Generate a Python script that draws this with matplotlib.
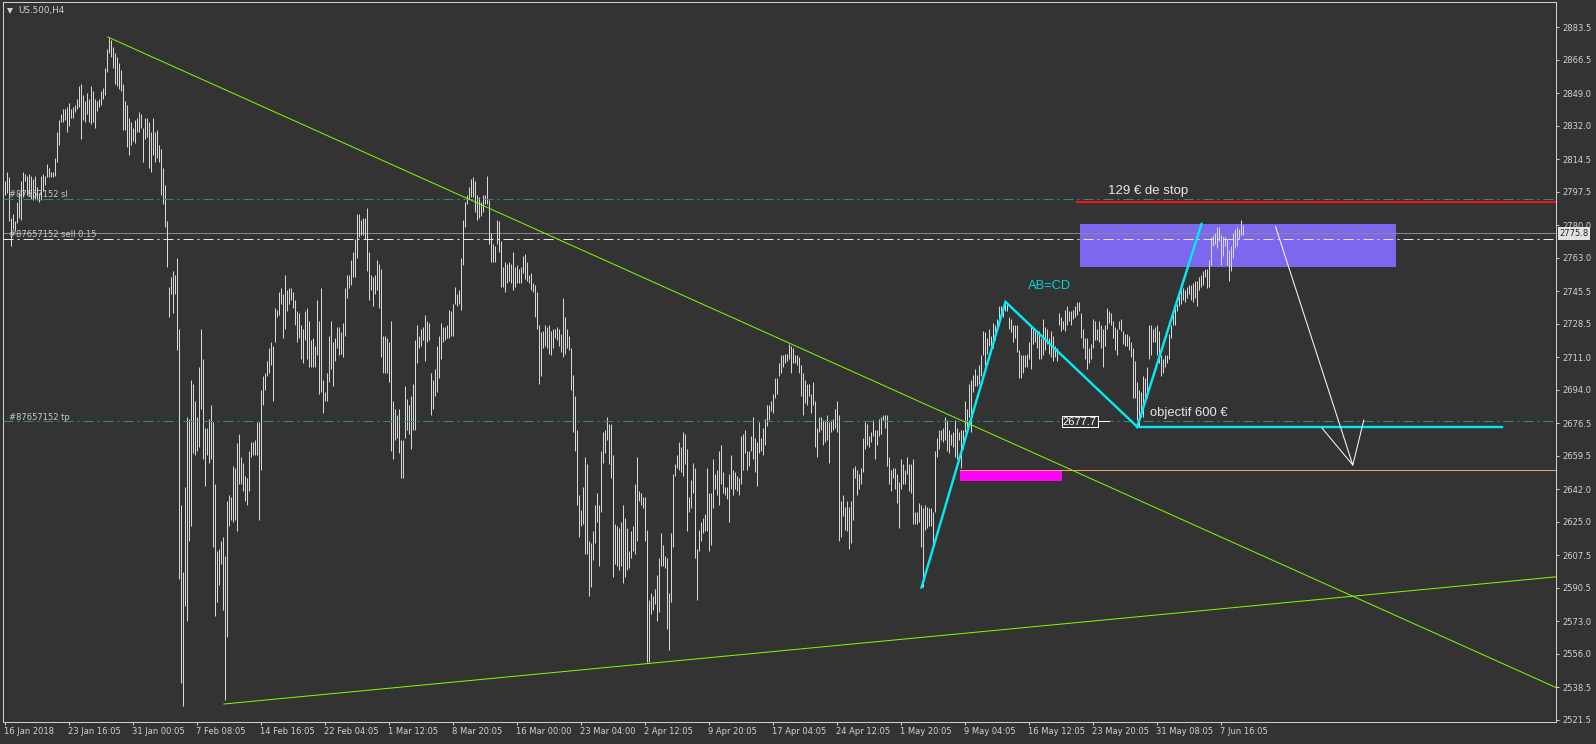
import matplotlib
matplotlib.use('Agg')
import matplotlib.pyplot as plt
from matplotlib.patches import Rectangle
from matplotlib.lines import Line2D

# ---------------- data (US.500 H4, one value per bar) ----------------
highs = [
2803, 2808, 2805, 2784, 2786, 2782, 2792, 2797, 2803, 2808,
2807, 2806, 2807, 2806, 2804, 2806, 2800, 2797, 2806, 2807,
2806, 2812, 2810, 2808, 2808, 2815, 2829, 2835, 2838, 2841,
2841, 2842, 2844, 2841, 2842, 2843, 2846, 2853, 2854, 2848,
2845, 2849, 2846, 2853, 2850, 2846, 2845, 2846, 2850, 2852,
2862, 2872, 2878, 2877, 2873, 2870, 2868, 2865, 2861, 2854,
2845, 2843, 2836, 2834, 2831, 2835, 2836, 2839, 2838, 2831,
2836, 2836, 2834, 2829, 2836, 2829, 2830, 2822, 2820, 2810,
2801, 2782, 2748, 2753, 2756, 2754, 2763, 2726, 2634, 2599,
2643, 2680, 2679, 2699, 2697, 2688, 2680, 2706, 2726, 2710,
2674, 2674, 2679, 2686, 2677, 2645, 2610, 2611, 2615, 2617,
2607, 2636, 2639, 2638, 2654, 2653, 2666, 2671, 2659, 2656,
2649, 2648, 2662, 2667, 2667, 2668, 2677, 2677, 2694, 2701,
2703, 2709, 2716, 2719, 2717, 2737, 2736, 2745, 2747, 2744,
2754, 2746, 2747, 2747, 2745, 2741, 2735, 2734, 2728, 2726,
2735, 2737, 2730, 2720, 2721, 2717, 2741, 2730, 2747, 2699,
2693, 2703, 2722, 2730, 2719, 2721, 2727, 2727, 2724, 2729,
2747, 2754, 2754, 2762, 2766, 2773, 2786, 2786, 2783, 2784,
2784, 2789, 2766, 2754, 2753, 2754, 2762, 2760, 2757, 2722,
2722, 2721, 2719, 2730, 2688, 2684, 2681, 2684, 2668, 2668,
2696, 2689, 2686, 2691, 2697, 2720, 2728, 2722, 2726, 2727,
2733, 2730, 2729, 2703, 2699, 2705, 2717, 2722, 2729, 2727,
2727, 2728, 2736, 2735, 2739, 2748, 2744, 2746, 2763, 2783,
2792, 2796, 2800, 2804, 2805, 2803, 2796, 2795, 2792, 2796,
2796, 2806, 2793, 2776, 2770, 2769, 2783, 2782, 2772, 2758,
2761, 2760, 2761, 2760, 2766, 2758, 2759, 2757, 2758, 2764,
2765, 2761, 2754, 2755, 2750, 2749, 2745, 2728, 2724, 2725,
2728, 2727, 2728, 2725, 2726, 2726, 2727, 2726, 2723, 2742,
2732, 2726, 2722, 2716, 2702, 2691, 2673, 2639, 2631, 2643,
2659, 2655, 2615, 2614, 2620, 2634, 2640, 2634, 2662, 2672,
2673, 2680, 2676, 2676, 2660, 2624, 2623, 2622, 2625, 2634,
2627, 2622, 2610, 2620, 2623, 2645, 2659, 2641, 2640, 2638,
2638, 2621, 2584, 2588, 2586, 2590, 2597, 2606, 2619, 2613,
2607, 2606, 2588, 2619, 2650, 2655, 2660, 2667, 2664, 2672,
2671, 2663, 2638, 2647, 2656, 2653, 2611, 2621, 2625, 2627,
2629, 2653, 2640, 2640, 2658, 2650, 2652, 2662, 2665, 2651,
2643, 2643, 2650, 2660, 2652, 2651, 2649, 2648, 2670, 2671,
2673, 2662, 2662, 2670, 2680, 2669, 2667, 2677, 2669, 2674,
2679, 2686, 2686, 2688, 2692, 2700, 2700, 2708, 2712, 2712,
2713, 2713, 2718, 2717, 2716, 2712, 2712, 2711, 2707, 2703,
2699, 2697, 2697, 2692, 2698, 2688, 2674, 2680, 2680, 2678,
2678, 2681, 2677, 2678, 2679, 2684, 2688, 2681, 2636, 2639,
2633, 2636, 2633, 2636, 2653, 2654, 2652, 2650, 2653, 2669,
2677, 2676, 2670, 2672, 2678, 2673, 2673, 2679, 2680, 2681,
2681, 2681, 2659, 2652, 2653, 2653, 2650, 2646, 2658, 2655,
2652, 2659, 2655, 2655, 2658, 2630, 2630, 2635, 2634, 2632,
2634, 2633, 2632, 2632, 2630, 2662, 2669, 2673, 2673, 2674,
2680, 2678, 2673, 2671, 2672, 2678, 2674, 2672, 2673, 2673,
2688, 2684, 2697, 2699, 2702, 2705, 2702, 2707, 2712, 2725,
2724, 2721, 2726, 2722, 2729, 2728, 2731, 2738, 2738, 2738,
2739, 2740, 2732, 2731, 2728, 2728, 2728, 2715, 2712, 2712,
2712, 2713, 2719, 2727, 2726, 2725, 2724, 2725, 2721, 2731,
2727, 2726, 2721, 2725, 2722, 2717, 2716, 2734, 2732, 2730,
2736, 2738, 2735, 2735, 2736, 2738, 2740, 2740, 2734, 2726,
2721, 2721, 2716, 2718, 2731, 2730, 2726, 2730, 2728, 2726,
2728, 2737, 2735, 2734, 2730, 2727, 2726, 2730, 2731, 2725,
2723, 2723, 2722, 2719, 2716, 2709, 2698, 2694, 2693, 2701,
2700, 2706, 2728, 2728, 2726, 2727, 2728, 2725, 2712, 2710,
2712, 2712, 2723, 2728, 2736, 2737, 2739, 2744, 2746, 2747,
2746, 2748, 2749, 2749, 2750, 2751, 2751, 2753, 2754, 2756,
2757, 2757, 2762, 2774, 2775, 2776, 2779, 2779, 2775, 2774,
2774, 2773, 2767, 2769, 2776, 2778, 2779, 2778, 2783, 2780,
]
lows = [
2796, 2797, 2782, 2769, 2778, 2777, 2781, 2784, 2783, 2795,
2803, 2796, 2796, 2794, 2793, 2794, 2793, 2792, 2793, 2798,
2801, 2805, 2805, 2805, 2805, 2806, 2813, 2822, 2834, 2834,
2835, 2829, 2832, 2836, 2836, 2839, 2841, 2842, 2825, 2835,
2834, 2838, 2834, 2833, 2834, 2831, 2840, 2842, 2843, 2846,
2848, 2860, 2870, 2868, 2862, 2854, 2853, 2851, 2850, 2830,
2830, 2821, 2817, 2822, 2824, 2823, 2829, 2829, 2831, 2813,
2825, 2826, 2810, 2808, 2817, 2813, 2815, 2813, 2796, 2791,
2779, 2758, 2732, 2744, 2734, 2744, 2715, 2595, 2541, 2529,
2581, 2573, 2615, 2623, 2661, 2660, 2662, 2664, 2684, 2658,
2644, 2660, 2656, 2658, 2612, 2576, 2583, 2592, 2603, 2579,
2532, 2565, 2623, 2626, 2625, 2626, 2620, 2645, 2645, 2641,
2636, 2634, 2641, 2659, 2660, 2660, 2660, 2626, 2652, 2686,
2694, 2701, 2703, 2707, 2688, 2719, 2732, 2733, 2739, 2721,
2726, 2735, 2739, 2741, 2737, 2728, 2719, 2721, 2710, 2708,
2720, 2710, 2706, 2706, 2706, 2706, 2712, 2692, 2693, 2682,
2688, 2688, 2698, 2705, 2696, 2709, 2716, 2712, 2713, 2711,
2722, 2742, 2747, 2749, 2753, 2753, 2763, 2774, 2775, 2775,
2773, 2756, 2741, 2746, 2738, 2744, 2746, 2737, 2711, 2703,
2703, 2703, 2698, 2662, 2658, 2668, 2669, 2661, 2648, 2648,
2669, 2673, 2671, 2663, 2673, 2673, 2708, 2716, 2717, 2720,
2709, 2719, 2720, 2681, 2684, 2691, 2693, 2700, 2710, 2719,
2720, 2721, 2721, 2722, 2722, 2739, 2738, 2739, 2736, 2759,
2779, 2791, 2794, 2795, 2795, 2787, 2783, 2784, 2785, 2787,
2791, 2791, 2770, 2761, 2761, 2761, 2770, 2766, 2748, 2748,
2745, 2750, 2751, 2750, 2746, 2748, 2750, 2750, 2750, 2755,
2752, 2751, 2750, 2746, 2745, 2732, 2726, 2697, 2701, 2716,
2717, 2716, 2713, 2712, 2716, 2721, 2720, 2717, 2714, 2711,
2713, 2716, 2715, 2694, 2672, 2662, 2634, 2617, 2623, 2624,
2608, 2608, 2586, 2591, 2605, 2614, 2625, 2602, 2630, 2656,
2661, 2668, 2655, 2648, 2596, 2603, 2602, 2600, 2602, 2593,
2596, 2600, 2601, 2606, 2610, 2608, 2615, 2636, 2634, 2632,
2615, 2552, 2552, 2577, 2579, 2582, 2573, 2578, 2602, 2602,
2601, 2569, 2558, 2583, 2612, 2649, 2653, 2652, 2651, 2649,
2655, 2620, 2630, 2632, 2640, 2606, 2584, 2610, 2615, 2619,
2620, 2620, 2610, 2613, 2632, 2642, 2639, 2634, 2645, 2640,
2639, 2637, 2625, 2642, 2639, 2642, 2641, 2639, 2645, 2652,
2661, 2652, 2654, 2662, 2658, 2651, 2644, 2661, 2662, 2660,
2665, 2675, 2678, 2683, 2682, 2690, 2692, 2701, 2703, 2706,
2708, 2709, 2710, 2703, 2708, 2708, 2707, 2703, 2691, 2681,
2687, 2686, 2691, 2682, 2686, 2664, 2659, 2672, 2673, 2665,
2667, 2668, 2656, 2672, 2673, 2674, 2672, 2615, 2617, 2628,
2621, 2620, 2611, 2614, 2626, 2648, 2639, 2642, 2645, 2651,
2663, 2665, 2664, 2667, 2670, 2658, 2665, 2670, 2671, 2678,
2674, 2654, 2645, 2641, 2648, 2642, 2635, 2622, 2642, 2645,
2645, 2650, 2641, 2640, 2624, 2624, 2624, 2625, 2612, 2591,
2621, 2622, 2623, 2623, 2612, 2630, 2659, 2663, 2668, 2667,
2668, 2662, 2661, 2665, 2664, 2659, 2658, 2668, 2653, 2663,
2672, 2673, 2680, 2672, 2693, 2696, 2696, 2697, 2701, 2712,
2707, 2713, 2717, 2717, 2716, 2720, 2725, 2728, 2734, 2732,
2735, 2735, 2726, 2724, 2719, 2721, 2714, 2700, 2700, 2703,
2706, 2706, 2710, 2705, 2718, 2719, 2716, 2710, 2710, 2712,
2715, 2718, 2713, 2711, 2709, 2711, 2709, 2728, 2725, 2726,
2725, 2728, 2730, 2728, 2731, 2732, 2733, 2735, 2721, 2716,
2710, 2705, 2708, 2710, 2716, 2720, 2720, 2719, 2716, 2706,
2717, 2726, 2729, 2728, 2721, 2715, 2712, 2726, 2725, 2718,
2717, 2717, 2715, 2711, 2690, 2690, 2678, 2675, 2680, 2680,
2688, 2690, 2710, 2712, 2719, 2719, 2712, 2708, 2701, 2703,
2706, 2708, 2710, 2721, 2728, 2728, 2735, 2738, 2739, 2741,
2740, 2742, 2744, 2741, 2740, 2742, 2738, 2746, 2748, 2749,
2753, 2747, 2748, 2759, 2769, 2770, 2768, 2772, 2759, 2764,
2769, 2759, 2751, 2756, 2763, 2768, 2769, 2773, 2775, 2775,
]

x_labels = ['16 Jan 2018', '23 Jan 16:05', '31 Jan 00:05', '7 Feb 08:05', '14 Feb 16:05',
            '22 Feb 04:05', '1 Mar 12:05', '8 Mar 20:05', '16 Mar 00:00', '23 Mar 04:00',
            '2 Apr 12:05', '9 Apr 20:05', '17 Apr 04:05', '24 Apr 12:05', '1 May 20:05',
            '9 May 04:05', '16 May 12:05', '23 May 20:05', '31 May 08:05', '7 Jun 16:05']
bars_per_label = 32
y_ticks = [2883.5, 2866.5, 2849.0, 2832.0, 2814.5, 2797.5, 2780.0, 2763.0, 2745.5,
           2728.5, 2711.0, 2694.0, 2676.5, 2659.5, 2642.0, 2625.0, 2607.5, 2590.5,
           2573.0, 2556.0, 2538.5, 2521.5]

symbol_title = 'US.500,H4'
order_id = '#87657152'
sl_price = 2794.0
sell_price = 2772.7
bid_price = 2775.8
tp_price = 2677.7
stop_price = 2792.0
support_price = 2652.2

down_trend_x = [51.7, 776.0]
down_trend_y = [2878.4, 2538.3]
up_trend_x = [109.65, 776.0]
up_trend_y = [2529.8, 2596.3]
abcd_x = [458.5, 500.5, 566.35, 598.5]
abcd_y = [2590.7, 2740.0, 2674.7, 2780.7]
target_end_x = 748.85
fc_x = [635.5, 674.15, 679.65]
fc_y = [2779.4, 2654.7, 2678.2]
fc2_x = [658.85, 674.15]
fc2_y = [2673.9, 2654.7]
zone_x = [537.5, 695.5]
zone_y = [2758.4, 2780.7]
mag_x = [477.65, 528.5]
mag_y = [2646.2, 2652.2]
stop_start_x = 536.35
box_x = [528.5, 546.5]
box_y = [2674.4, 2680.5]

# ---------------- styling ----------------
BG = '#333333'
FG = '#d2d2d2'
BAR = '#d8d8d8'
TEAL = '#2b8a8a'
CYAN = '#00ecf4'
GREEN = '#7CFC00'
PX = 0.72  # one pixel in points at 100 dpi

W, H = 1596, 744
fig = plt.figure(figsize=(W / 100, H / 100), dpi=100, facecolor=BG)
L_px, R_px, T_px, B_px = 3, 1556, 2, 722
ax = fig.add_axes([L_px / W, (H - B_px) / H, (R_px - L_px) / W, (B_px - T_px) / H])
ax.set_facecolor(BG)
ax.set_xlim(-0.75, 775.75)
ax.set_ylim(2520.4, 2896.72)

n = len(highs)
xs = list(range(n))
ax.vlines(xs, lows, highs, colors=BAR, linewidth=PX, zorder=3)

# rectangles (background objects)
ax.add_patch(Rectangle((zone_x[0], zone_y[0]), zone_x[1] - zone_x[0], zone_y[1] - zone_y[0],
                       facecolor='#7B68EE', edgecolor='none', zorder=1))
ax.add_patch(Rectangle((mag_x[0], mag_y[0]), mag_x[1] - mag_x[0], mag_y[1] - mag_y[0],
                       facecolor='#FF00FF', edgecolor='none', zorder=1))

# horizontal order lines
ax.axhline(bid_price, color='#8a8a8a', lw=PX, zorder=2)
dashdot = (0, (10, 4, 2, 4))
ax.axhline(sl_price, color=TEAL, lw=PX, ls=dashdot, zorder=4)
ax.axhline(tp_price, color=TEAL, lw=PX, ls=dashdot, zorder=4)
ax.axhline(sell_price, color='#e8e8e8', lw=PX, ls=dashdot, zorder=4)

ax.plot([stop_start_x, 775.75], [stop_price, stop_price], color='#ff1010', lw=2 * PX, zorder=4)
ax.plot([mag_x[0], 775.75], [support_price, support_price], color='#F4A460', lw=PX, zorder=4)

# trend lines
ax.plot(down_trend_x, down_trend_y, color=GREEN, lw=PX, zorder=4)
ax.plot(up_trend_x, up_trend_y, color=GREEN, lw=PX, zorder=4)

# AB=CD
ax.plot(abcd_x, abcd_y, color=CYAN, lw=2.4 * PX, zorder=5, solid_joinstyle='miter')
ax.plot([abcd_x[2], target_end_x], [abcd_y[2], abcd_y[2]], color=CYAN, lw=2.4 * PX, zorder=5)

# forecast zigzag
ax.plot(fc_x, fc_y, color='white', lw=PX, zorder=5)
ax.plot(fc2_x, fc2_y, color='white', lw=PX, zorder=5)

# price box on chart
ax.add_patch(Rectangle((box_x[0], box_y[0]), box_x[1] - box_x[0], box_y[1] - box_y[0],
                       facecolor=BG, edgecolor='white', lw=PX, zorder=6))
ax.text((box_x[0] + box_x[1]) / 2, (box_y[0] + box_y[1]) / 2 - 0.2, f'{tp_price:.1f}',
        ha='center', va='center', fontsize=8.0, color='white', family='Liberation Sans', zorder=7)
ax.plot([box_x[1], box_x[1] + 5.5], [tp_price, tp_price], color='white', lw=PX, zorder=6)

# annotations
ax.text(552, 2798.0, '129 € de stop', fontsize=9.5, color='#e8e8e8', family='Liberation Sans',
        va='center', ha='left', zorder=7)
ax.text(511.5, 2748.5, 'AB=CD', fontsize=9.3, color='#00d6dc', family='Liberation Sans',
        va='center', ha='left', zorder=7)
ax.text(572.5, 2681.9, 'objectif 600 €', fontsize=9.4, color='#e8e8e8', family='Liberation Sans',
        va='center', ha='left', zorder=7)

# order labels
lab_kw = dict(fontsize=6.0, color='#c8c8c8', ha='left', va='baseline', zorder=7)
ax.text(2.4, 2795.0, order_id + ' sl', **lab_kw)
ax.text(2.4, 2774.1, order_id + ' sell 0.15', **lab_kw)
ax.text(2.4, 2678.5, order_id + ' tp', **lab_kw)

# axes styling
for s in ax.spines.values():
    s.set_color('#cfcfcf')
    s.set_linewidth(PX)
ax.yaxis.tick_right()
ax.set_yticks(y_ticks)
ax.set_yticklabels([f'{v:.1f}' for v in y_ticks])
ax.set_xticks([k * bars_per_label for k in range(len(x_labels))])
ax.set_xticklabels(x_labels)
for lbl in ax.get_xticklabels():
    lbl.set_ha('left')
ax.tick_params(axis='x', direction='out', length=3 * PX, width=PX, colors='#cfcfcf',
               labelcolor=FG, labelsize=6, pad=2.5 * PX)
ax.tick_params(axis='y', direction='out', length=3 * PX, width=PX, colors='#cfcfcf',
               labelcolor=FG, labelsize=6, pad=3 * PX)

# bid price label on the axis
fig.text(1559.5 / W, 1 - 233.5 / H, f'{bid_price:.1f}', fontsize=6, color='#222222',
         ha='left', va='center',
         bbox=dict(boxstyle='square,pad=0.2', facecolor='#e2e2e2', edgecolor='none'))

# title
fig.add_artist(Line2D([9.5 / W], [1 - 11 / H], marker='v', markersize=4.5, color=FG,
                      markeredgewidth=0, transform=fig.transFigure))
fig.text(18 / W, 1 - 10.5 / H, symbol_title, fontsize=6.3, color=FG, ha='left', va='center')

fig.savefig('out.png', dpi=100, facecolor=BG)
